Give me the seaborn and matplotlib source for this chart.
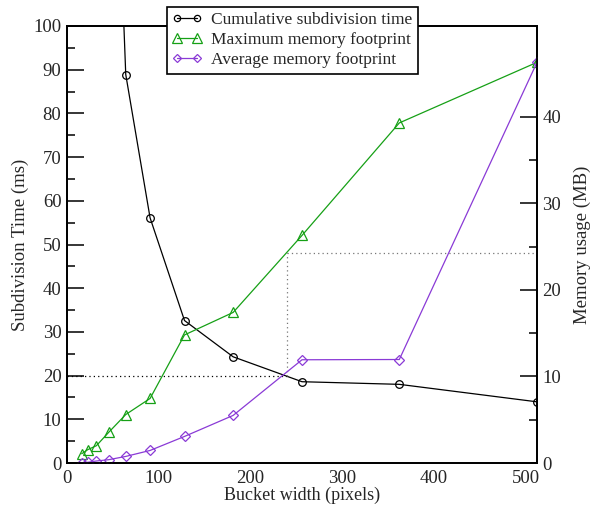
import numpy as np
import pandas as pd
import matplotlib
matplotlib.use("Agg")
import matplotlib.pyplot as plt
from matplotlib.ticker import MultipleLocator, FixedLocator
from matplotlib.lines import Line2D
import seaborn as sns

# ---- data ----
bucket_width = [16, 22.6, 32, 45.3, 64, 90.5, 128, 181, 256, 362, 512]
subdiv_time_ms = [900, 560, 330, 192, 88.9, 56.1, 32.6, 24.3, 18.6, 18.0, 14.0]
max_mem_mb = [1.07, 1.54, 2.0, 3.53, 5.6, 7.46, 14.8, 17.4, 26.3, 39.3, 46.3]
avg_mem_mb = [0.03, 0.08, 0.23, 0.38, 0.76, 1.45, 3.07, 5.5, 11.93, 11.96, 46.3]

labels = ["Cumulative subdivision time", "Maximum memory footprint", "Average memory footprint"]
xlabel = "Bucket width (pixels)"
ylabel_left = "Subdivision Time (ms)"
ylabel_right = "Memory usage (MB)"
right_major = [0, 10, 20, 30, 40]
right_minor = [5, 15, 25, 35]

# guide lines (dotted)
guide_x = 240
guide_low_ms = 20
guide_high_ms = 48

df = pd.DataFrame({"x": bucket_width, "t": subdiv_time_ms,
                   "mx": max_mem_mb, "av": avg_mem_mb})

sns.set_style("white")
plt.rcParams["font.family"] = ["Liberation Serif", "DejaVu Serif"]
plt.rcParams["font.size"] = 10.5

fig = plt.figure(figsize=(5.97, 5.08), dpi=100)
ax = fig.add_axes([67/597, 1-463/508, (537-67)/597, (463-26)/508])
ax2 = ax.twinx()

black = "#000000"
green = "#16a016"
purple = "#8a3ad6"

sns.lineplot(data=df, x="x", y="t", ax=ax, color=black, lw=0.9,
             marker="o", markersize=5.5, markerfacecolor="none",
             markeredgecolor=black, markeredgewidth=0.9, legend=False)
sns.lineplot(data=df, x="x", y="mx", ax=ax2, color=green, lw=0.9,
             marker="^", markersize=7.5, markerfacecolor="none",
             markeredgecolor=green, markeredgewidth=0.9, legend=False)
sns.lineplot(data=df, x="x", y="av", ax=ax2, color=purple, lw=0.9,
             marker="D", markersize=4.8, markerfacecolor="none",
             markeredgecolor=purple, markeredgewidth=0.9, legend=False)

# dotted guides
ax.plot([0, guide_x], [guide_low_ms, guide_low_ms], ls=(0, (1, 2.5)), color="black", lw=0.9)
ax.plot([guide_x, guide_x], [guide_low_ms, guide_high_ms], ls=(0, (1, 2.5)), color="#777777", lw=0.9)
ax.plot([guide_x, 512], [guide_high_ms, guide_high_ms], ls=(0, (1, 2.5)), color="#777777", lw=0.9)

ax.set_xlim(0, 512)
ax.set_ylim(0, 100)
ax2.set_ylim(0, 50.5)

ax.xaxis.set_major_locator(MultipleLocator(100))
ax.xaxis.set_minor_locator(MultipleLocator(50))
ax.yaxis.set_major_locator(MultipleLocator(10))
ax.yaxis.set_minor_locator(MultipleLocator(5))
ax2.yaxis.set_major_locator(FixedLocator(right_major))
ax2.yaxis.set_minor_locator(FixedLocator(right_minor))

for a in (ax, ax2):
    for s in a.spines.values():
        s.set_linewidth(1.3)
        s.set_color("black")

ax.tick_params(axis="both", which="major", direction="in", length=12, width=1.1,
               top=False, right=False, labelsize=13.5, pad=4, color="black")
ax.tick_params(axis="both", which="minor", direction="in", length=6, width=1.1,
               top=False, right=False, color="black")
ax2.tick_params(axis="y", which="major", direction="in", length=12, width=1.1,
                labelsize=13.5, pad=4, color="black")
ax2.tick_params(axis="y", which="minor", direction="in", length=6, width=1.1, color="black")
ax.tick_params(axis="x", pad=5)

ax.set_xlabel(xlabel, fontsize=13, labelpad=0)
ax.set_ylabel(ylabel_left, fontsize=13.5, labelpad=3)
ax2.set_ylabel(ylabel_right, fontsize=13.5, labelpad=9)

handles = [
    Line2D([], [], color=black, lw=0.9, marker="o", markersize=4.5,
           markerfacecolor="none", markeredgewidth=0.9),
    Line2D([], [], color=green, lw=0.9, marker="^", markersize=6.5,
           markerfacecolor="none", markeredgewidth=0.9),
    Line2D([], [], color=purple, lw=0.9, marker="D", markersize=4.5,
           markerfacecolor="none", markeredgewidth=0.9),
]
leg = fig.legend(handles, labels, loc="upper left", bbox_to_anchor=(167/597, 1-7/508),
                 frameon=True, fancybox=False, fontsize=12.5, handlelength=1.75,
                 handletextpad=0.5, borderpad=0.3, labelspacing=0.22,
                 borderaxespad=0, numpoints=2)
leg.get_frame().set_edgecolor("black")
leg.get_frame().set_linewidth(1.2)
leg.get_frame().set_facecolor("white")
leg.get_frame().set_alpha(1)

fig.savefig("out.png", dpi=100)
